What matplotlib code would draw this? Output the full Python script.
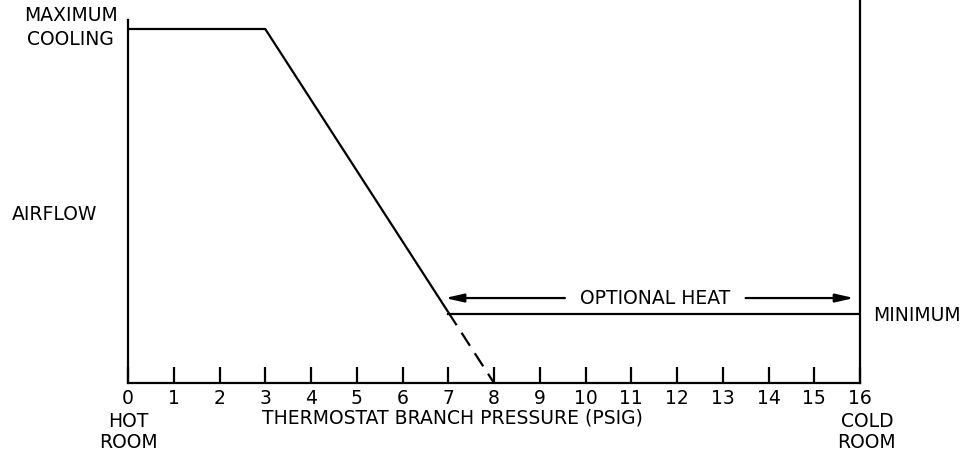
import matplotlib
matplotlib.use("Agg")
import matplotlib.pyplot as plt

# airflow schedule vs thermostat branch pressure
pressure = [0, 3, 7]
airflow = [1.0, 1.0, 0.2]
dash_pressure = [7, 8]
dash_airflow = [0.2, 0.0]
min_pressure = [7, 16]
min_airflow = [0.195, 0.195]
heat_span = (6.93, 15.87)
heat_level = 0.24
tick_values = list(range(17))
tick_labels = [str(v) for v in tick_values]

LW = 1.6
FS = 13.5

plt.rcParams["font.family"] = ["DejaVu Sans"]

fig = plt.figure(figsize=(9.61, 4.57), dpi=100)
ax = fig.add_axes([128 / 961, 74 / 457, 732 / 961, 383 / 457])
ax.set_xlim(0, 16)
ax.set_ylim(0, 383 / 354)

for side in ("top", "right"):
    ax.spines[side].set_visible(False)
ax.spines["left"].set_bounds(0, 1.025)
ax.spines["left"].set_linewidth(LW)
ax.spines["bottom"].set_linewidth(LW)

ax.plot(pressure, airflow, color="black", lw=LW, solid_capstyle="butt")
ax.plot(dash_pressure, dash_airflow, color="black", lw=LW, dashes=(7, 4))
ax.plot(min_pressure, min_airflow, color="black", lw=LW)
ax.plot([16, 16], [0, 383 / 354], color="black", lw=LW, clip_on=False)

# optional heat arrow with label break
ax.annotate("", xy=(heat_span[0], heat_level), xytext=(9.55, heat_level),
            arrowprops=dict(arrowstyle="-|>,head_length=1.1,head_width=0.25",
                            color="black", lw=LW, shrinkA=0, shrinkB=0))
ax.annotate("", xy=(heat_span[1], heat_level), xytext=(13.5, heat_level),
            arrowprops=dict(arrowstyle="-|>,head_length=1.1,head_width=0.25",
                            color="black", lw=LW, shrinkA=0, shrinkB=0))
ax.text(11.52, heat_level, "OPTIONAL HEAT", ha="center", va="center",
        fontsize=FS)

ax.set_xticks(tick_values)
ax.set_xticklabels(tick_labels, fontsize=FS)
ax.set_yticks([])
ax.tick_params(axis="x", direction="in", length=11.5, width=LW, pad=4)

ax.text(-1.25, 1.004, "MAXIMUM\nCOOLING", ha="center", va="center",
        fontsize=FS, linespacing=1.3)
ax.text(-1.61, 0.475, "AIRFLOW", ha="center", va="center", fontsize=FS)
ax.text(16.28, 0.192, "MINIMUM", ha="left", va="center", fontsize=FS)
ax.text(0, -0.138, "HOT\nROOM", ha="center", va="center", fontsize=FS,
        linespacing=1.1)
ax.text(16.15, -0.138, "COLD\nROOM", ha="center", va="center", fontsize=FS,
        linespacing=1.1)
ax.text(7.1, -0.099, "THERMOSTAT BRANCH PRESSURE (PSIG)", ha="center",
        va="center", fontsize=FS)

fig.savefig("out.png", dpi=100)
